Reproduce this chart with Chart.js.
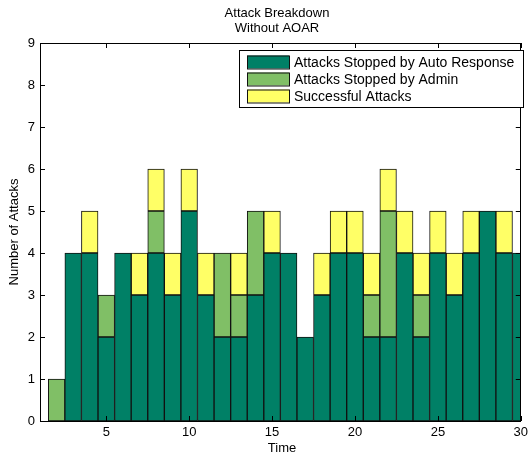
<!DOCTYPE html>
<html>
<head>
<meta charset="utf-8">
<script src="https://cdn.jsdelivr.net/npm/chart.js@4.4.1/dist/chart.umd.min.js"></script>
<style>
  html, body { margin: 0; padding: 0; background: #fff; }
  #wrap { width: 532px; height: 460px; }
</style>
</head>
<body>
<div id="wrap"><canvas id="chart" width="532" height="460"></canvas></div>
<script>
  // time steps and stacked counts
  var times = [1, 2, 3, 4, 5, 6, 7, 8, 9, 10, 11, 12, 13, 14, 15,
               16, 17, 18, 19, 20, 21, 22, 23, 24, 25, 26, 27, 28, 29, 30];
  var autoResponse = [0, 0, 4, 4, 2, 4, 3, 4, 3, 5, 3, 2, 2, 3, 4,
                      4, 2, 3, 4, 4, 2, 2, 4, 2, 4, 3, 4, 5, 4, 4];
  var byAdmin      = [0, 1, 0, 0, 1, 0, 0, 1, 0, 0, 0, 2, 1, 2, 0,
                      0, 0, 0, 0, 0, 1, 3, 0, 1, 0, 0, 0, 0, 0, 0];
  var successful   = [0, 0, 0, 1, 0, 0, 1, 1, 1, 1, 1, 0, 1, 0, 1,
                      0, 0, 1, 1, 1, 1, 1, 1, 1, 1, 1, 1, 0, 1, 0];
  var xTicks = [5, 10, 15, 20, 25, 30];
  var yTicks = [0, 1, 2, 3, 4, 5, 6, 7, 8, 9];

  var seriesNames = ['Attacks Stopped by Auto Response', 'Attacks Stopped by Admin', 'Successful Attacks'];
  var seriesColors = ['#008066', '#80bf66', '#ffff66'];

  var FONT = '"Liberation Sans", Arial, sans-serif';

  function points(values) {
    return times.map(function (t, i) { return { x: t, y: values[i] }; });
  }

  var datasets = [autoResponse, byAdmin, successful].map(function (vals, i) {
    return {
      label: seriesNames[i],
      data: points(vals),
      backgroundColor: seriesColors[i],
      borderColor: '#111',
      borderWidth: 1,
      borderSkipped: false,
      barPercentage: 1,
      categoryPercentage: 1
    };
  });

  // frame, inward ticks, titles and legend (MATLAB style)
  var decorations = {
    id: 'decorations',
    afterDraw: function (chart) {
      var ctx = chart.ctx;
      var a = chart.chartArea;
      var xs = chart.scales.x, ys = chart.scales.y;
      ctx.save();
      ctx.strokeStyle = '#000';
      ctx.lineWidth = 1;
      ctx.strokeRect(Math.round(a.left) + 0.5, Math.round(a.top) + 0.5,
        Math.round(a.right - a.left) - 1, Math.round(a.bottom - a.top));

      ctx.beginPath();
      yTicks.forEach(function (v) {
        var py = Math.round(ys.getPixelForValue(v)) + 0.5;
        ctx.moveTo(a.left, py); ctx.lineTo(a.left + 5, py);
        ctx.moveTo(a.right, py); ctx.lineTo(a.right - 5, py);
      });
      xTicks.forEach(function (v) {
        var px = Math.round(xs.getPixelForValue(v)) + 0.5;
        ctx.moveTo(px, a.bottom); ctx.lineTo(px, a.bottom - 5);
        ctx.moveTo(px, a.top); ctx.lineTo(px, a.top + 5);
      });
      ctx.stroke();

      ctx.fillStyle = '#000';
      ctx.font = '13px ' + FONT;
      ctx.textAlign = 'center';
      ctx.textBaseline = 'middle';
      ctx.fillText('Attack Breakdown', 277, 13);
      ctx.fillText('Without AOAR', 277, 28);
      ctx.fillText('Time', 282, 448);

      ctx.save();
      ctx.translate(14, (a.top + a.bottom) / 2);
      ctx.rotate(-Math.PI / 2);
      ctx.fillText('Number of Attacks', 0, 0);
      ctx.restore();

      // legend
      var lx = 239, ly = 50, lw = 284, lh = 57;
      ctx.fillStyle = '#fff';
      ctx.fillRect(lx, ly, lw, lh);
      ctx.strokeRect(lx + 0.5, ly + 0.5, lw, lh);
      ctx.textAlign = 'left';
      ctx.font = '14px ' + FONT;
      seriesNames.forEach(function (name, i) {
        var cy = ly + 12 + i * 17;
        ctx.fillStyle = seriesColors[i];
        ctx.fillRect(247, cy - 6.5, 42, 13);
        ctx.strokeStyle = '#111';
        ctx.strokeRect(247.5, cy - 6, 42, 13);
        ctx.fillStyle = '#000';
        ctx.fillText(name, 294, cy + 1);
      });
      ctx.restore();
    }
  };

  new Chart(document.getElementById('chart').getContext('2d'), {
    type: 'bar',
    data: { datasets: datasets },
    options: {
      responsive: false,
      animation: false,
      layout: { padding: { left: 0, top: 43, right: 8, bottom: 0 } },
      plugins: {
        legend: { display: false },
        title: { display: false },
        tooltip: { enabled: false }
      },
      scales: {
        x: {
          type: 'linear',
          min: 1,
          max: 30,
          stacked: true,
          offset: false,
          grid: { display: false, tickLength: 0 },
          border: { display: false },
          ticks: { color: '#000', font: { family: FONT, size: 13 }, padding: 4, maxRotation: 0 },
          afterBuildTicks: function (scale) {
            scale.ticks = xTicks.map(function (v) { return { value: v }; });
          },
          afterFit: function (scale) { scale.height = 39; }
        },
        y: {
          min: 0,
          max: 9,
          stacked: true,
          grid: { display: false, tickLength: 0 },
          border: { display: false },
          ticks: { color: '#000', font: { family: FONT, size: 13 }, stepSize: 1, padding: 5 },
          afterFit: function (scale) { scale.width = 40; }
        }
      }
    },
    plugins: [decorations]
  });
</script>
</body>
</html>
